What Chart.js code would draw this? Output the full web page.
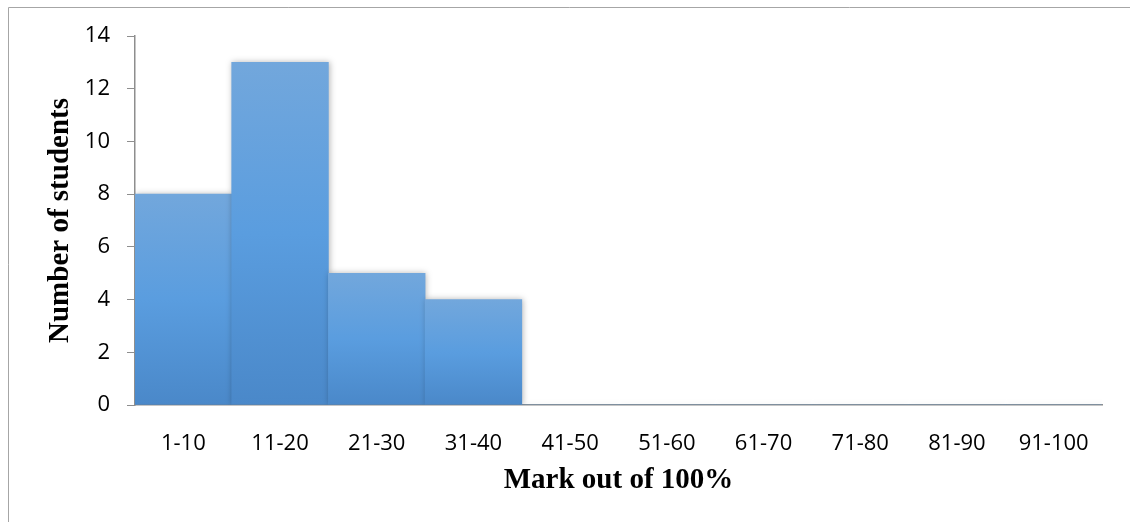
<!DOCTYPE html>
<html>
<head>
<meta charset="utf-8">
<style>
  html, body { margin: 0; padding: 0; background: #ffffff; }
  #wrap { width: 1130px; height: 522px; position: relative; }
</style>
<script src="https://cdn.jsdelivr.net/npm/chart.js@4/dist/chart.umd.min.js"></script>
</head>
<body>
<div id="wrap"><canvas id="chart" width="1130" height="522"></canvas></div>
<script>
// Mark bands and how many students fell into each
const markBands = ['1-10', '11-20', '21-30', '31-40', '41-50', '51-60', '61-70', '71-80', '81-90', '91-100'];
const studentCounts = [8, 13, 5, 4, 0, 0, 0, 0, 0, 0];
const countTicks = [0, 2, 4, 6, 8, 10, 12, 14];

const axisGray = '#8e8e8e';
const tickFont = { family: '"Open Sans", sans-serif', size: 22 };
const titleFont = { family: '"Liberation Serif", "Times New Roman", serif', size: 29, weight: 'bold' };

// vertical gradient from each bar's top down to the baseline
function barFill(ctx) {
  const chart = ctx.chart;
  const area = chart.chartArea;
  if (!area || ctx.type !== 'data') return '#5b9bd5';
  const y = chart.scales.y;
  const top = y.getPixelForValue(ctx.raw);
  const base = y.getPixelForValue(0);
  if (!(base > top)) return '#5b9bd5';
  const g = chart.ctx.createLinearGradient(0, top, 0, base);
  g.addColorStop(0, '#72a7dc');
  g.addColorStop(0.5, '#5a9ddf');
  g.addColorStop(1, '#4a88c9');
  return g;
}

// thin frame along the top and left edges, plus soft shadows under the bars
const framePlugin = {
  id: 'frame',
  beforeDraw(chart) {
    const c = chart.ctx;
    c.save();
    c.strokeStyle = '#a6a6a6';
    c.lineWidth = 1;
    c.beginPath();
    c.moveTo(8.5, 522);
    c.lineTo(8.5, 7.5);
    c.lineTo(1130, 7.5);
    c.stroke();
    c.restore();
  },
  beforeDatasetsDraw(chart) {
    const c = chart.ctx;
    c.save();
    c.shadowColor = 'rgba(0,0,0,0.28)';
    c.shadowBlur = 6;
    c.shadowOffsetX = 1;
    c.shadowOffsetY = 0;
  },
  afterDatasetsDraw(chart) {
    chart.ctx.restore();
  }
};

new Chart(document.getElementById('chart'), {
  type: 'bar',
  data: {
    labels: markBands,
    datasets: [{
      data: studentCounts,
      backgroundColor: barFill,
      borderWidth: 0,
      barPercentage: 1.0,
      categoryPercentage: 1.0
    }]
  },
  options: {
    responsive: false,
    animation: false,
    devicePixelRatio: 1,
    layout: { padding: { left: 0, top: 36, right: 28, bottom: 0 } },
    plugins: {
      legend: { display: false },
      tooltip: { enabled: false }
    },
    scales: {
      x: {
        grid: { display: false },
        border: { display: true, color: axisGray, width: 1.5 },
        ticks: { color: '#000000', font: tickFont, padding: 18, maxRotation: 0, autoSkip: false },
        title: { display: true, text: 'Mark out of 100%', color: '#000000', font: titleFont, padding: { top: 0, bottom: 24 } },
        afterFit(scale) { scale.height = 117; }
      },
      y: {
        min: 0,
        max: 14,
        afterBuildTicks(scale) { scale.ticks = countTicks.map(v => ({ value: v })); },
        grid: { display: true, drawOnChartArea: false, drawTicks: true, tickLength: 8, color: axisGray, lineWidth: 1 },
        border: { display: true, color: axisGray, width: 1.5 },
        ticks: { color: '#000000', font: tickFont, padding: 17 },
        title: { display: true, text: 'Number of students', color: '#000000', font: titleFont, padding: { top: 43, bottom: 0 } },
        afterFit(scale) { scale.width = 135; }
      }
    }
  },
  plugins: [framePlugin]
});
</script>
</body>
</html>
